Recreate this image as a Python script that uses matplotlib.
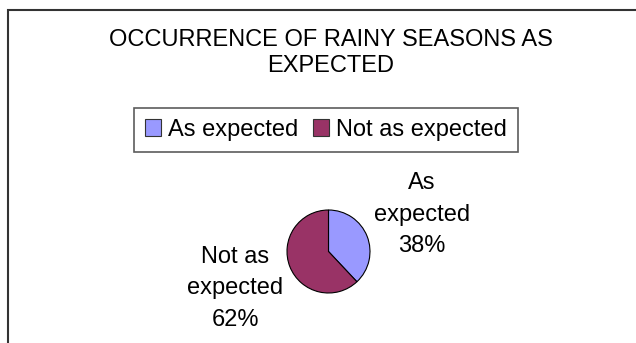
import matplotlib.pyplot as plt
from matplotlib.patches import Patch, Rectangle

plt.rcParams['font.family'] = ['Liberation Sans', 'DejaVu Sans']

# rainy season survey
categories = ['As expected', 'Not as expected']
shares = [38, 62]
wedge_labels = ['As\nexpected\n38%', 'Not as\nexpected\n62%']
colors = ['#9999FF', '#993366']

W, H = 636, 343
FS = 17

fig = plt.figure(figsize=(W / 100, H / 100), dpi=100)

# chart area outline (only the top and left edges are inside the canvas)
fig.patches.append(Rectangle((8 / W, -0.1), 1.2, 1 - 10 / H + 0.1,
                             transform=fig.transFigure, fill=False,
                             edgecolor='#333333', linewidth=1.5))

fig.text(331 / W, 1 - 53 / H, 'OCCURRENCE OF RAINY SEASONS AS\nEXPECTED',
         ha='center', va='center', fontsize=FS, linespacing=1.22)

# pie, radius about 41.5 px
r = 41.5
cx, cy = 328.5, 251.5
ax = fig.add_axes([(cx - 1.2 * r) / W, 1 - (cy + 1.2 * r) / H,
                   2.4 * r / W, 2.4 * r / H])
wedges, texts = ax.pie(shares, colors=colors, labels=wedge_labels,
                       startangle=90, counterclock=False,
                       labeldistance=2.42,
                       wedgeprops=dict(edgecolor='black', linewidth=0.8),
                       textprops=dict(fontsize=FS, linespacing=1.55))
for t in texts:
    t.set_ha('center')
    t.set_va('center')
    t.set_clip_on(False)
ax.set_xlim(-1.2, 1.2)
ax.set_ylim(-1.2, 1.2)
ax.set_aspect('equal')

handles = [Patch(facecolor=c, edgecolor='#333333', linewidth=0.8) for c in colors]
leg = fig.legend(handles, categories, loc='center', bbox_to_anchor=(326 / W, 1 - 130 / H),
                 ncol=2, fontsize=FS, frameon=True, fancybox=False,
                 handlelength=0.7, handleheight=0.7, handletextpad=0.3,
                 columnspacing=0.6, borderpad=0.45, borderaxespad=0)
leg.get_frame().set_edgecolor('#333333')
leg.get_frame().set_linewidth(1.2)

fig.savefig('out.png', dpi=100)
